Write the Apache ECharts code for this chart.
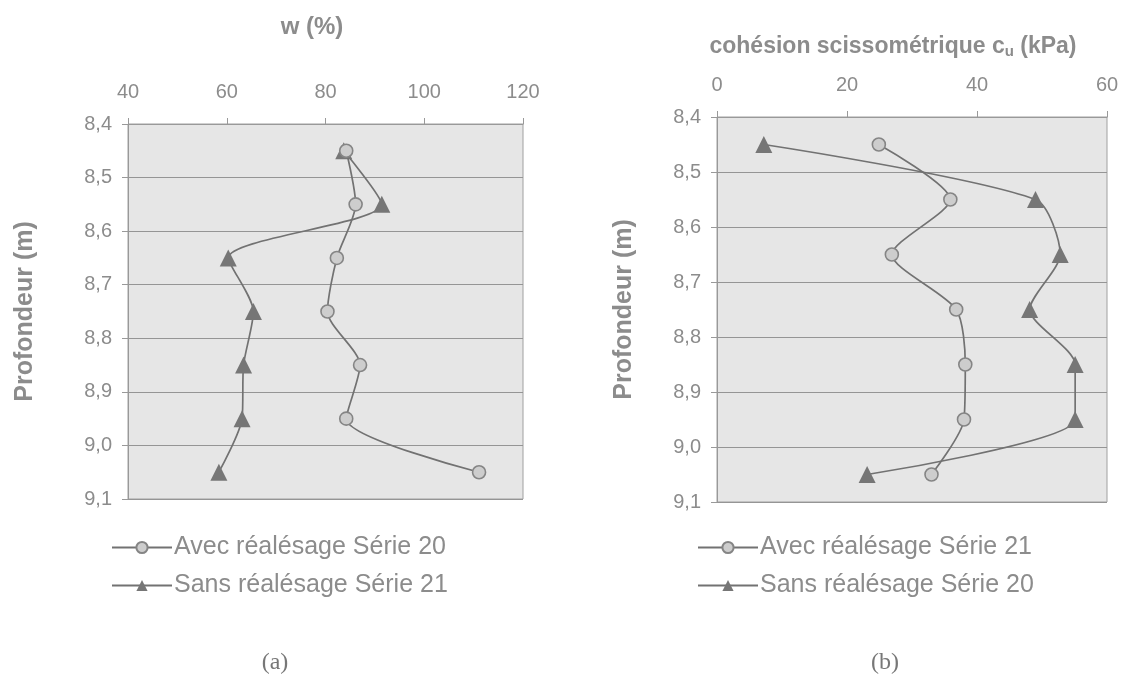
<!DOCTYPE html>
<html>
<head>
<meta charset="utf-8">
<script src="https://cdn.jsdelivr.net/npm/echarts@6/dist/echarts.min.js"></script>
<style>
  html, body { margin: 0; padding: 0; background: #fff; }
  #chart { width: 1126px; height: 685px; }
</style>
</head>
<body>
<div id="chart"></div>
<script>
// Depth levels (m), shared by both panels
const depths = [8.45, 8.55, 8.65, 8.75, 8.85, 8.95, 9.05];

// Panel (a): water content w (%)
const wAvecSerie20 = [84.2, 86.1, 82.3, 80.4, 87.0, 84.2, 111.1];
const wSansSerie21 = [83.7, 91.4, 60.3, 65.4, 63.4, 63.1, 58.4];

// Panel (b): vane shear cohesion cu (kPa)
const cuAvecSerie21 = [24.9, 35.9, 26.9, 36.8, 38.2, 38.0, 33.0];
const cuSansSerie20 = [7.2, 49.0, 52.8, 48.1, 55.1, 55.1, 23.1];

const legendA = ['Avec réalésage Série 20', 'Sans réalésage Série 21'];
const legendB = ['Avec réalésage Série 21', 'Sans réalésage Série 20'];

const pairs = (xs) => xs.map((v, i) => [v, depths[i]]);

const txt = '#8c8c8c';
const lineCol = '#727272';
const font = 'Liberation Sans, Arial, sans-serif';

function xAxisCfg(grid, min, max) {
  return {
    gridIndex: grid, type: 'value', position: 'top', min: min, max: max, interval: 20,
    axisLine: { show: true, lineStyle: { color: '#999', width: 1 } },
    axisTick: { show: true, length: 6, lineStyle: { color: '#999' } },
    axisLabel: { color: txt, fontSize: 20, fontFamily: font, margin: 22 },
    splitLine: { show: false }
  };
}
function yAxisCfg(grid, gap) {
  return {
    gridIndex: grid, type: 'value', inverse: true, min: 8.4, max: 9.1, interval: 0.1,
    name: 'Profondeur (m)', nameLocation: 'middle', nameGap: gap, nameRotate: 90,
    nameTextStyle: { color: txt, fontSize: 25, fontWeight: 'bold', fontFamily: font },
    axisLine: { show: true, lineStyle: { color: '#999', width: 1 } },
    axisTick: { show: true, length: 6, lineStyle: { color: '#999' } },
    axisLabel: {
      color: txt, fontSize: 20, fontFamily: font, margin: 16,
      formatter: (v) => v.toFixed(1).replace('.', ',')
    },
    splitLine: { show: true, lineStyle: { color: '#959595', width: 1 } }
  };
}
function circleSeries(name, grid, data) {
  return {
    name: name, type: 'line', xAxisIndex: grid, yAxisIndex: grid, data: pairs(data),
    smooth: 0.25, symbol: 'circle', symbolSize: 13,
    lineStyle: { color: lineCol, width: 1.7 },
    itemStyle: { color: '#cdcdcd', borderColor: '#858585', borderWidth: 1.6 },
    z: 3
  };
}
function triSeries(name, grid, data) {
  return {
    name: name, type: 'line', xAxisIndex: grid, yAxisIndex: grid, data: pairs(data),
    smooth: 0.25, symbol: 'triangle', symbolSize: 17,
    lineStyle: { color: lineCol, width: 1.7 },
    itemStyle: { color: '#767676', borderColor: '#767676', borderWidth: 0 },
    z: 2
  };
}
function legendCfg(data, left) {
  return {
    data: data, left: left, top: 530, orient: 'vertical', itemGap: 13,
    itemWidth: 60, itemHeight: 14, selectedMode: false,
    textStyle: { color: txt, fontSize: 25, fontFamily: font, padding: [0, 0, 0, -3] }
  };
}

const chart = echarts.init(document.getElementById('chart'));
chart.setOption({
  backgroundColor: '#fff',
  animation: false,
  title: [
    {
      text: 'w (%)', left: 307, top: 10, textAlign: 'center',
      textStyle: { color: txt, fontSize: 24, fontWeight: 'bold', fontFamily: font }
    },
    {
      text: '{a|cohésion scissométrique c}{s|u}{a| (kPa)}', left: 888, top: 29, textAlign: 'center',
      textStyle: {
        rich: {
          a: { color: txt, fontSize: 23, fontWeight: 'bold', fontFamily: font },
          s: { color: txt, fontSize: 15, fontWeight: 'bold', fontFamily: font, verticalAlign: 'bottom', padding: [10, 0, 0, 0] }
        }
      }
    },
    {
      text: '(a)', left: 270, top: 646, textAlign: 'center',
      textStyle: { color: '#777', fontSize: 24, fontWeight: 'normal', fontFamily: 'Liberation Serif, serif' }
    },
    {
      text: '(b)', left: 880, top: 646, textAlign: 'center',
      textStyle: { color: '#777', fontSize: 24, fontWeight: 'normal', fontFamily: 'Liberation Serif, serif' }
    }
  ],
  legend: [legendCfg(legendA, 106), legendCfg(legendB, 692)],
  grid: [
    { left: 128, top: 124, width: 395, height: 375, show: true, backgroundColor: '#e6e6e6', borderColor: '#a0a0a0', borderWidth: 1 },
    { left: 717, top: 117, width: 390, height: 385, show: true, backgroundColor: '#e6e6e6', borderColor: '#a0a0a0', borderWidth: 1 }
  ],
  xAxis: [xAxisCfg(0, 40, 120), xAxisCfg(1, 0, 60)],
  yAxis: [yAxisCfg(0, 90), yAxisCfg(1, 80)],
  series: [
    circleSeries(legendA[0], 0, wAvecSerie20),
    triSeries(legendA[1], 0, wSansSerie21),
    circleSeries(legendB[0], 1, cuAvecSerie21),
    triSeries(legendB[1], 1, cuSansSerie20)
  ]
});
</script>
</body>
</html>
